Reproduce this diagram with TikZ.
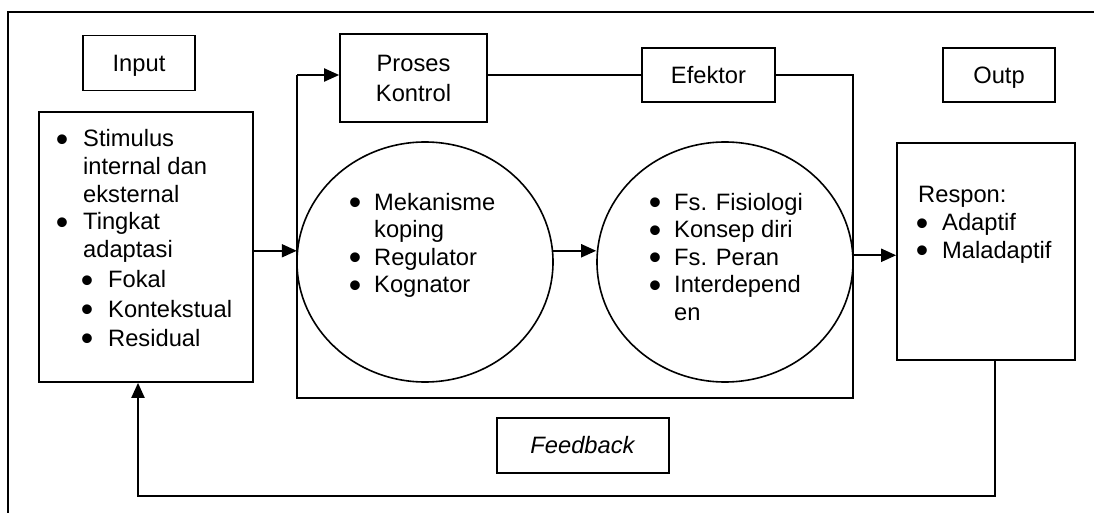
\documentclass[tikz,border=0pt]{standalone}
\usepackage{fontspec}
\usepackage{graphicx}
\setmainfont{Liberation Sans}
\usetikzlibrary{arrows.meta,shapes.geometric}
\newcommand\bul{\makebox[8pt]{\smash{\raisebox{-4.5pt}{\scalebox{1.5}{\textbullet}}}}}
\begin{document}
\begin{tikzpicture}[x=1pt,y=-1pt,
  every node/.style={font=\fontsize{23.7}{27.6}\selectfont},
  box/.style={draw,line width=1.7pt,inner sep=0pt,text height=16.5pt,text depth=0pt},
  bigbox/.style={draw,line width=1.7pt,inner sep=0pt},
  oval/.style={draw,ellipse,line width=1.6pt,inner sep=0pt},
  txt/.style={anchor=base west,inner sep=0pt},
  line/.style={line width=1.7pt},
  arr/.style={line width=2pt,-{Triangle[length=15pt,width=13pt]}},
  frame/.style={line width=2pt}]
\useasboundingbox (0,0) rectangle (1094,513);
% outer frame (top and left only)
\coordinate (frBL) at (8,513);
\coordinate (frTL) at (8,12);
\coordinate (frTR) at (1094,12);
\draw[frame] (frBL) -- (frTL) -- (frTR);
% title boxes
\node[box,minimum width=112pt,minimum height=55pt] (input) at (139,63) {Input};
\node[draw,line width=1.7pt,inner sep=0pt,align=center,minimum width=147pt,minimum height=88pt] (proses) at (413.5,78) {Proses\\[2.4pt]Kontrol};
\node[box,minimum width=133pt,minimum height=54pt] (efektor) at (708.5,75) {Efektor};
\node[box,minimum width=112pt,minimum height=54pt] (outp) at (999,75) {Outp};
\node[box,minimum width=172pt,minimum height=55pt] (feedback) at (583,445.5) {\textit{Feedback}};
% content boxes
\node[bigbox,minimum width=214pt,minimum height=270pt] (inbox) at (146,247) {};
\node[bigbox,minimum width=178pt,minimum height=217pt] (resp) at (986,251.5) {};
\node[oval,minimum width=256pt,minimum height=240pt] (c1) at (425,262) {};
\node[oval,minimum width=256pt,minimum height=240pt] (c2) at (725,262) {};
% texts
\node[txt] (intext) at (58,147) {\begin{tabular}[t]{@{}p{25pt}@{}p{25pt}@{}l@{}}
\bul & \multicolumn{2}{@{}l@{}}{Stimulus}\\
 & \multicolumn{2}{@{}l@{}}{internal dan}\\
 & \multicolumn{2}{@{}l@{}}{eksternal}\\
\bul & \multicolumn{2}{@{}l@{}}{Tingkat}\\
 & \multicolumn{2}{@{}l@{}}{adaptasi}\\[3pt]
 & \bul & Fokal\\[1.5pt]
 & \bul & Kontekstual\\[1.5pt]
 & \bul & Residual
\end{tabular}};
\node[txt] (c1text) at (351,210) {\begin{tabular}[t]{@{}p{23pt}@{}l@{}}
\bul & Mekanisme\\
 & koping\\
\bul & Regulator\\
\bul & Kognator
\end{tabular}};
\node[txt] (c2text) at (651,210) {\begin{tabular}[t]{@{}p{23pt}@{}l@{}}
\bul & Fs. Fisiologi\\
\bul & Konsep diri\\
\bul & Fs. Peran\\
\bul & Interdepend\\
 & en
\end{tabular}};
\node[txt] (resptext) at (918,203) {\begin{tabular}[t]{@{}p{24pt}@{}l@{}}
\multicolumn{2}{@{}l@{}}{Respon:}\\
\bul & Adaptif\\
\bul & Maladaptif
\end{tabular}};
% loop around the control process
\coordinate (lpTR) at (853,75);
\coordinate (lpBR) at (853,398);
\coordinate (lpBL) at (297,398);
\coordinate (lpTL) at (297,75);
\draw[line] (efektor.west -| proses.east) -- (efektor.west);
\draw[line] (efektor.east) -- (lpTR) -- (lpBR) -- (lpBL) -- (lpTL);
\draw[arr] (lpTL) -- (lpTL -| proses.west);
% flow arrows
\draw[arr] (inbox.east |- c1.175) -- (c1.175);
\draw[arr] (c1.5) -- (c1.5 -| c2.west);
\draw[arr] (c2.3) -- (c2.3 -| resp.west);
% feedback loop
\coordinate (fbR) at (995,496);
\coordinate (fbL) at (138,496);
\draw[arr] (fbR |- resp.south) -- (fbR) -- (fbL) -- (fbL |- inbox.south);
\end{tikzpicture}
\end{document}
